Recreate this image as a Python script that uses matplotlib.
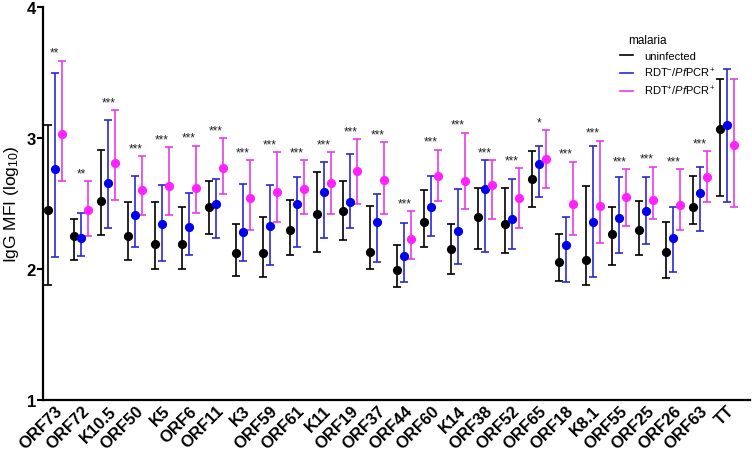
import matplotlib
matplotlib.use('Agg')
import matplotlib.pyplot as plt
from matplotlib.lines import Line2D
import numpy as np

plt.rcParams['font.family'] = ['Liberation Sans', 'DejaVu Sans']
plt.rcParams['mathtext.fontset'] = 'custom'
plt.rcParams['mathtext.rm'] = 'Liberation Sans'
plt.rcParams['mathtext.it'] = 'Liberation Sans:italic'
plt.rcParams['mathtext.bf'] = 'Liberation Sans:bold'

# antigens on the x axis
antigens = ['ORF73', 'ORF72', 'K10.5', 'ORF50', 'K5', 'ORF6', 'ORF11', 'K3', 'ORF59',
            'ORF61', 'K11', 'ORF19', 'ORF37', 'ORF44', 'ORF60', 'K14', 'ORF38', 'ORF52',
            'ORF65', 'ORF18', 'K8.1', 'ORF55', 'ORF25', 'ORF26', 'ORF63', 'TT']

# uninfected: mean, upper and lower whisker (log10 MFI)
unin_mean = [2.45, 2.25, 2.52, 2.25, 2.19, 2.19, 2.47, 2.12, 2.12, 2.30, 2.42, 2.44, 2.13,
             1.99, 2.36, 2.15, 2.40, 2.34, 2.69, 2.05, 2.07, 2.27, 2.30, 2.13, 2.47, 3.07]
unin_hi = [3.10, 2.38, 2.91, 2.51, 2.51, 2.47, 2.67, 2.34, 2.40, 2.53, 2.74, 2.67, 2.48,
           2.18, 2.60, 2.34, 2.62, 2.62, 2.90, 2.27, 2.63, 2.47, 2.52, 2.36, 2.71, 3.45]
unin_lo = [1.88, 2.07, 2.26, 2.07, 2.00, 2.00, 2.27, 1.95, 1.94, 2.11, 2.13, 2.22, 2.00,
           1.86, 2.17, 1.96, 2.15, 2.12, 2.47, 1.91, 1.88, 2.03, 2.11, 1.93, 2.34, 2.56]

# RDT-/PfPCR+
neg_mean = [2.76, 2.24, 2.66, 2.41, 2.34, 2.32, 2.50, 2.28, 2.33, 2.50, 2.59, 2.51, 2.36,
            2.10, 2.47, 2.29, 2.61, 2.38, 2.80, 2.18, 2.36, 2.39, 2.44, 2.24, 2.58, 3.10]
neg_hi = [3.50, 2.43, 3.14, 2.71, 2.64, 2.58, 2.69, 2.65, 2.64, 2.70, 2.82, 2.88, 2.57,
          2.35, 2.71, 2.61, 2.83, 2.69, 2.94, 2.40, 2.94, 2.70, 2.70, 2.47, 2.78, 3.53]
neg_lo = [2.09, 2.10, 2.31, 2.17, 2.06, 2.11, 2.24, 2.06, 2.03, 2.17, 2.24, 2.31, 2.05,
          1.90, 2.25, 2.04, 2.13, 2.15, 2.55, 1.90, 1.94, 2.12, 2.19, 1.98, 2.29, 2.51]

# RDT+/PfPCR+
pos_mean = [3.03, 2.45, 2.81, 2.60, 2.63, 2.62, 2.77, 2.54, 2.59, 2.61, 2.66, 2.75, 2.68,
            2.23, 2.71, 2.67, 2.64, 2.54, 2.84, 2.50, 2.48, 2.55, 2.53, 2.49, 2.70, 2.95]
pos_hi = [3.59, 2.67, 3.21, 2.86, 2.93, 2.94, 3.00, 2.83, 2.89, 2.83, 2.89, 2.99, 2.97,
          2.44, 2.91, 3.04, 2.83, 2.77, 3.06, 2.82, 2.98, 2.76, 2.78, 2.76, 2.90, 3.45]
pos_lo = [2.67, 2.25, 2.53, 2.41, 2.41, 2.43, 2.57, 2.30, 2.36, 2.42, 2.42, 2.50, 2.42,
          2.08, 2.52, 2.46, 2.38, 2.31, 2.62, 2.26, 2.20, 2.33, 2.38, 2.30, 2.51, 2.47]

# significance stars
sig = ['**', '**', '***', '***', '***', '***', '***', '***', '***', '***', '***', '***', '***',
       '***', '***', '***', '***', '***', '*', '***', '***', '***', '***', '***', '***', '']

groups = [
    ('uninfected', unin_mean, unin_lo, unin_hi, '#000000', '#000000', -0.26),
    (r'RDT$^{-}$/$\mathit{Pf}$PCR$^{+}$', neg_mean, neg_lo, neg_hi, '#0000ee', '#2a2ad0', 0.0),
    (r'RDT$^{+}$/$\mathit{Pf}$PCR$^{+}$', pos_mean, pos_lo, pos_hi, '#ff22ff', '#e63ce6', 0.26),
]

x = np.arange(len(antigens))

fig = plt.figure(figsize=(7.52, 4.52), dpi=100)
ax = fig.add_axes([0.0572, 0.1128, 0.94, 0.8695])

handles = []
for label, m, lo, hi, c_dot, c_bar, dx in groups:
    m = np.array(m)
    err = [m - np.array(lo), np.array(hi) - m]
    ax.errorbar(x + dx, m, yerr=err, fmt='none', ecolor=c_bar, elinewidth=1.2,
                capsize=2.8, capthick=1.2)
    ax.plot(x + dx, m, 'o', color=c_dot, markersize=5.6, zorder=3)
    handles.append(Line2D([], [], color=c_bar, lw=1.2, label=label))

tops = np.max([unin_hi, neg_hi, pos_hi], axis=0)
for xi, t, s in zip(x, tops, sig):
    if s:
        ax.text(xi, t + 0.015, s, ha='center', va='bottom', fontsize=8.5, color='#222222')

ax.set_ylim(1, 4)
ax.set_xlim(-0.43, 25.85)
ax.set_yticks([1, 2, 3, 4])
ax.set_xticks(x)
ax.set_xticklabels(antigens, rotation=45, ha='right', rotation_mode='anchor',
                   fontsize=12, fontweight='bold')
for lbl in ax.get_yticklabels():
    lbl.set_fontweight('bold')
    lbl.set_fontsize(12)
ax.tick_params(axis='x', length=0, pad=2)
ax.tick_params(axis='y', length=4, width=1.5, pad=1)
ax.spines['top'].set_visible(False)
ax.spines['right'].set_visible(False)
ax.spines['left'].set_linewidth(1.6)
ax.spines['bottom'].set_linewidth(1.6)
ax.set_ylabel(r'IgG MFI (log$_{10}$)', fontsize=12.5, labelpad=4)

leg = ax.legend(handles=handles, loc='upper left', bbox_to_anchor=(0.802, 0.957),
                frameon=False, fontsize=8, title='malaria', title_fontsize=8.5,
                handlelength=1.2, handletextpad=1.0, labelspacing=0.45, alignment='left')
leg.get_title().set_position((8, 0))

fig.savefig('out.png', dpi=100)
